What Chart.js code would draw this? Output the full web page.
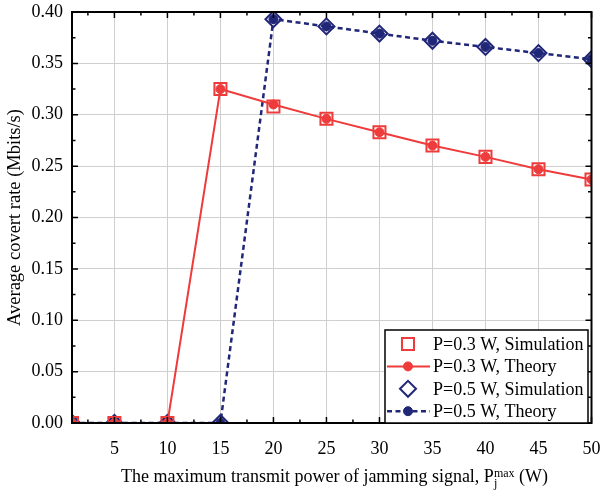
<!DOCTYPE html>
<html lang="en">
<head>
  <meta charset="UTF-8" />
  <title>Average covert rate vs jamming power</title>
  <script src="https://cdn.jsdelivr.net/npm/chart.js"></script>
  <style>
    html, body { margin: 0; padding: 0; background: #fff; }
    #wrap { position: relative; width: 602px; height: 495px; overflow: hidden; }
    #xTitle {
      position: absolute; left: 72px; width: 525px; top: 465px;
      text-align: center; font-family: 'Liberation Serif', serif; font-size: 18px; color: #000;
      line-height: 22px;
    }
    .ss { display: inline-block; vertical-align: -5px; line-height: 10px; font-size: 12px; text-align: left; }
    .ss span { display: block; }
  </style>
</head>
<body>
  <div id="wrap">
    <canvas id="rateChart" width="602" height="495"></canvas>
    <div id="xTitle">The maximum transmit power of jamming signal, P<span class="ss"><span>max</span><span>j</span></span> (W)</div>
  </div>

  <script>
    // data
    const powerLevels = [1, 5, 10, 15, 20, 25, 30, 35, 40, 45, 50];
    const simP03 = [0, 0, 0, 0.325, 0.308, 0.296, 0.283, 0.270, 0.259, 0.247, 0.237];
    const theoryP03 = [0, 0, 0, 0.325, 0.310, 0.296, 0.283, 0.270, 0.259, 0.247, 0.237];
    const simP05 = [0, 0, 0, 0, 0.393, 0.386, 0.379, 0.372, 0.366, 0.360, 0.354];
    const theoryP05 = [0, 0, 0, 0, 0.393, 0.386, 0.379, 0.372, 0.366, 0.360, 0.354];
    const xTickValues = [5, 10, 15, 20, 25, 30, 35, 40, 45, 50];
    const yTickValues = [0, 0.05, 0.10, 0.15, 0.20, 0.25, 0.30, 0.35, 0.40];

    const RED = '#EE3B3B';
    const NAVY = '#202678';
    const FONT = "'Liberation Serif', serif";

    const toPts = ys => powerLevels.map((x, i) => ({ x: x, y: ys[i] }));

    // black box with inward ticks on all sides
    const framePlugin = {
      id: 'frame',
      afterDatasetsDraw(chart) {
        const { ctx, chartArea: a, scales } = chart;
        ctx.save();
        ctx.strokeStyle = '#000';
        ctx.lineWidth = 1.5;
        const xs = scales.x, ys = scales.y;
        for (let v = 2.5; v <= 50; v += 2.5) {
          const px = xs.getPixelForValue(v);
          const len = (v % 5 === 0) ? 6 : 3.5;
          ctx.beginPath();
          ctx.moveTo(px, a.bottom); ctx.lineTo(px, a.bottom - len);
          ctx.moveTo(px, a.top); ctx.lineTo(px, a.top + len);
          ctx.stroke();
        }
        for (let v = 0.025; v < 0.4; v += 0.025) {
          const py = ys.getPixelForValue(v);
          const major = Math.abs(v / 0.05 - Math.round(v / 0.05)) < 1e-6;
          const len = major ? 6 : 3.5;
          ctx.beginPath();
          ctx.moveTo(a.left, py); ctx.lineTo(a.left + len, py);
          ctx.moveTo(a.right, py); ctx.lineTo(a.right - len, py);
          ctx.stroke();
        }
        ctx.lineWidth = 2;
        ctx.strokeRect(a.left, a.top, a.right - a.left, a.bottom - a.top);
        ctx.restore();
      }
    };

    // legend box drawn inside the plot, bottom right
    const boxLegend = {
      id: 'boxLegend',
      afterDraw(chart) {
        const { ctx } = chart;
        const bx = 385, by = 330, bw = 203, bh = 93;
        ctx.save();
        ctx.fillStyle = '#fff';
        ctx.fillRect(bx, by, bw, bh);
        ctx.strokeStyle = '#000';
        ctx.lineWidth = 1.5;
        ctx.strokeRect(bx, by, bw, bh);
        chart.data.datasets.forEach((ds, i) => {
          const cy = by + 14 + i * 22.4;
          const mx = 408;
          if (ds.showLine !== false) {
            ctx.beginPath();
            ctx.strokeStyle = ds.borderColor;
            ctx.lineWidth = ds.borderWidth;
            ctx.setLineDash(ds.borderDash || []);
            ctx.moveTo(387, cy); ctx.lineTo(430, cy);
            ctx.stroke();
            ctx.setLineDash([]);
          }
          ctx.strokeStyle = ds.pointBorderColor;
          ctx.fillStyle = ds.pointBackgroundColor;
          ctx.lineWidth = ds.pointBorderWidth;
          Chart.helpers.drawPoint(ctx, {
            pointStyle: ds.pointStyle, radius: ds.pointRadius, rotation: 0, borderWidth: ds.pointBorderWidth
          }, mx, cy);
          ctx.fillStyle = '#000';
          ctx.font = '18px ' + FONT;
          ctx.textBaseline = 'middle';
          ctx.textAlign = 'left';
          ctx.fillText(ds.label, 433, cy + 1);
        });
        ctx.restore();
      }
    };

    new Chart(document.getElementById('rateChart'), {
      type: 'line',
      data: {
        datasets: [
          {
            label: 'P=0.3 W, Simulation',
            data: toPts(simP03),
            showLine: false,
            pointStyle: 'rect',
            pointRadius: 8.5,
            pointBorderWidth: 2,
            pointBorderColor: RED,
            pointBackgroundColor: 'rgba(0,0,0,0)',
            borderColor: RED
          },
          {
            label: 'P=0.3 W, Theory',
            data: toPts(theoryP03),
            borderColor: RED,
            borderWidth: 2,
            pointStyle: 'circle',
            pointRadius: 4.5,
            pointBorderWidth: 1,
            pointBorderColor: RED,
            pointBackgroundColor: RED,
            tension: 0
          },
          {
            label: 'P=0.5 W, Simulation',
            data: toPts(simP05),
            showLine: false,
            pointStyle: 'rectRot',
            pointRadius: 8,
            pointBorderWidth: 2,
            pointBorderColor: NAVY,
            pointBackgroundColor: 'rgba(0,0,0,0)',
            borderColor: NAVY
          },
          {
            label: 'P=0.5 W, Theory',
            data: toPts(theoryP05),
            borderColor: NAVY,
            borderWidth: 2.5,
            borderDash: [5, 3.5],
            pointStyle: 'circle',
            pointRadius: 4.5,
            pointBorderWidth: 1,
            pointBorderColor: NAVY,
            pointBackgroundColor: NAVY,
            tension: 0
          }
        ]
      },
      options: {
        responsive: false,
        animation: false,
        layout: { padding: { top: 12, right: 5, left: 0, bottom: 0 } },
        plugins: {
          legend: { display: false },
          tooltip: { enabled: false }
        },
        scales: {
          x: {
            type: 'linear',
            min: 1,
            max: 50,
            afterBuildTicks: s => { s.ticks = xTickValues.map(v => ({ value: v })); },
            afterFit: s => { s.height = 72; s.paddingLeft = 0; s.paddingRight = 0; },
            grid: { color: '#cfcfcf', lineWidth: 1, drawTicks: false },
            border: { display: false },
            ticks: { color: '#000', font: { family: FONT, size: 18 }, padding: 15, maxRotation: 0 },
            title: { display: false }
          },
          y: {
            min: 0,
            max: 0.4,
            afterBuildTicks: s => { s.ticks = yTickValues.map(v => ({ value: v })); },
            afterFit: s => { s.width = 72; s.paddingTop = 0; s.paddingBottom = 0; },
            grid: { color: '#cfcfcf', lineWidth: 1, drawTicks: false },
            border: { display: false },
            ticks: { color: '#000', font: { family: FONT, size: 18 }, padding: 9, callback: v => v.toFixed(2) },
            title: {
              display: true,
              text: 'Average covert rate (Mbits/s)',
              color: '#000',
              font: { family: FONT, size: 18.5 },
              padding: { top: 4, bottom: 0 }
            }
          }
        }
      },
      plugins: [framePlugin, boxLegend]
    });
  </script>
</body>
</html>
